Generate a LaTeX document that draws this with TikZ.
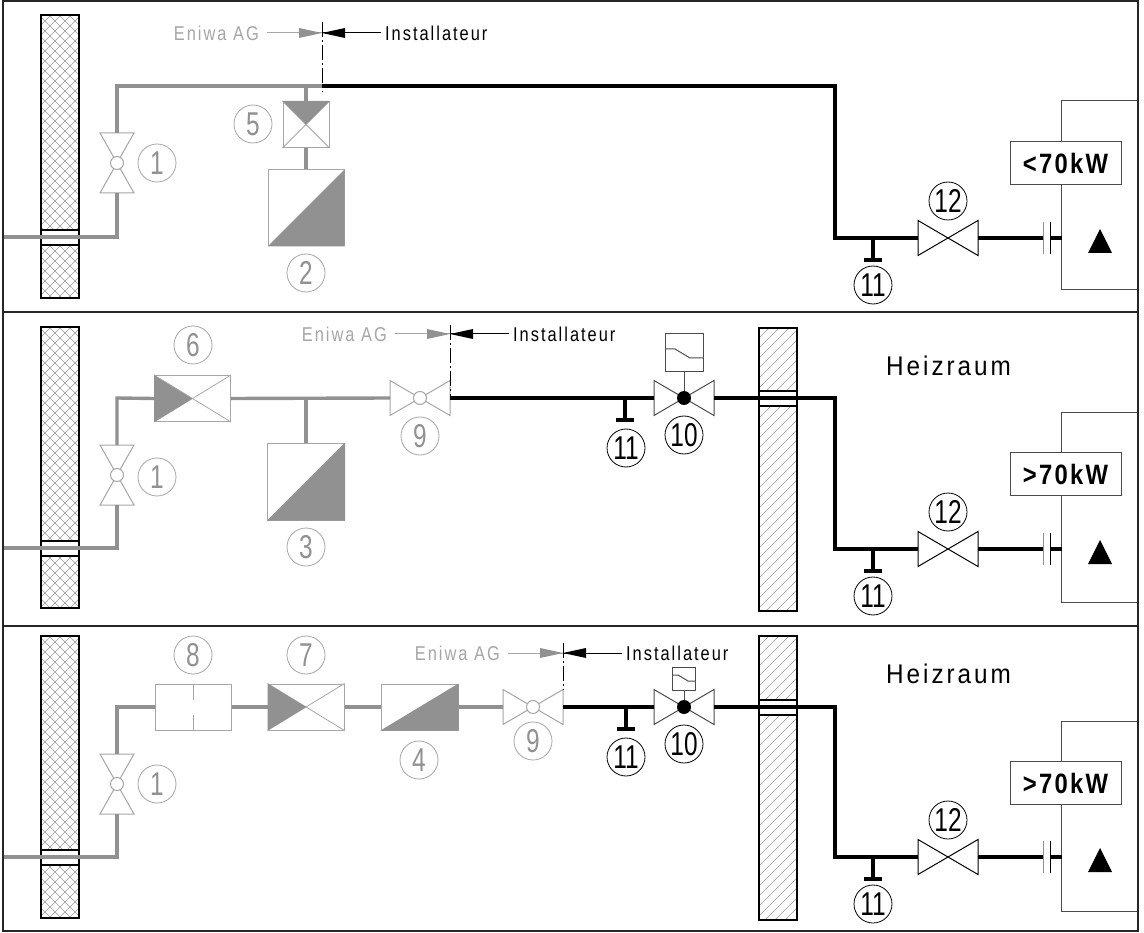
\documentclass[tikz,border=0pt]{standalone}
\usepackage{fontspec}
\setmainfont{Liberation Sans}
\newfontfamily\lab[FakeStretch=.82,LetterSpace=10]{Liberation Sans}
\newfontfamily\heiz[FakeStretch=.9,LetterSpace=11]{Liberation Sans}
\newfontfamily\digs[FakeStretch=.74]{Liberation Sans}
\newfontfamily\pow[FakeStretch=.85,LetterSpace=8]{Liberation Sans Bold}
\definecolor{gp}{HTML}{919191}
\definecolor{gt}{HTML}{A6A6A6}
\tikzset{
 gpipe/.style={draw=gp,line width=3.4pt,line join=miter},
 kpipe/.style={draw=black,line width=3.4pt,line join=miter},
 frameln/.style={draw=black!85,line width=2pt},
 wallln/.style={draw=black,line width=1.8pt},
 hatchln/.style={draw=black!40,line width=.5pt},
 thing/.style={draw=#1,line width=1pt,fill=white},
 numc/.style={circle,draw=#1,text=#1,line width=.8pt,minimum size=38pt,inner sep=0pt,font=\digs\fontsize{33}{33}\selectfont},
 numg/.style={numc=gp,draw=gt},
 numk/.style={numc=black},
 dashdot/.style={draw=black,line width=1pt,dash pattern=on 15pt off 3pt on 2pt off 3pt},
 lbl/.style={font=\lab\fontsize{20}{20}\selectfont,inner sep=0pt},
 powbox/.style={draw=black!70,fill=white,line width=1pt,minimum width=111pt,minimum height=43pt,inner sep=0pt,font=\pow\fontsize{28}{28}\selectfont},
 heizl/.style={font=\heiz\fontsize{27}{27}\selectfont,inner sep=0pt,anchor=west},
}
% wall: x0, ytop, ybot, bandtop, bandbot, hatch kind (1 cross, 0 single)
\newcommand{\mywall}[6]{%
 \begin{scope}
 \clip (#1,#2) rectangle (#1+38,#3);
 \foreach \k in {-40,-30,...,340}{
   \draw[hatchln] (#1,#2+\k) -- (#1+38,#2+\k-38);
   \ifnum#6=1 \draw[hatchln] (#1,#2+\k-38) -- (#1+38,#2+\k);\fi
 }
 \end{scope}
 \fill[white] (#1,#4) rectangle (#1+38,#5);
 \draw[wallln] (#1,#2) rectangle (#1+38,#3);
 \draw[wallln] (#1,#4) -- (#1+38,#4) (#1,#5) -- (#1+38,#5);
}
% horizontal valve: name,x,y,colour,half height
\newcommand{\hvalve}[5]{%
 \coordinate (#1) at (#2,#3);
 \coordinate (#1-l) at (#2-30,#3);
 \coordinate (#1-r) at (#2+30,#3);
 \draw[draw=#4,line width=1pt] (#2,#3) -- (#2-30,#3-#5) -- (#2-30,#3+#5) -- cycle;
 \draw[draw=#4,line width=1pt] (#2,#3) -- (#2+30,#3-#5) -- (#2+30,#3+#5) -- cycle;
}
% vertical valve with open hub
\newcommand{\vvalve}[3]{%
 \coordinate (#1) at (#2,#3);
 \coordinate (#1-t) at (#2,#3-30);
 \coordinate (#1-b) at (#2,#3+30);
 \draw[draw=gt,line width=1pt] (#2,#3) -- (#2-17,#3-30) -- (#2+17,#3-30) -- cycle;
 \draw[draw=gt,line width=1pt] (#2,#3) -- (#2-17,#3+30) -- (#2+17,#3+30) -- cycle;
 \draw[draw=gt,line width=1pt,fill=white] (#2,#3) circle (6.5);
}
% demarcation: x, y arrows, ytop, ybot
\newcommand{\demarc}[4]{%
 \coordinate (dt) at (#1,#3);
 \coordinate (db) at (#1,#4);
 \coordinate (dm) at (#1,#2);
 \node[lbl,text=gt,anchor=east] (en#1) at (#1-63,#2) {Eniwa AG};
 \node[lbl,text=black,anchor=west] (in#1) at (#1+63,#2) {Installateur};
 \draw[draw=gt,line width=1pt] (en#1.east) ++(8,0) -- (dm);
 \draw[draw=black,line width=1pt] (in#1.west) ++(-4,0) -- (dm);
 \fill[gp] (dm) -- ++(-23,-5) -- ++(0,10) -- cycle;
 \fill[black] (dm) -- ++(23,-5) -- ++(0,10) -- cycle;
 \draw[dashdot] (dt) -- (db);
}
% right-hand part of each panel: y of pipe (valve 12), top of boiler, bottom, label y, text
\newcommand{\consumer}[5]{%
 \draw[draw=black!70,line width=1pt] (1137,#2) -- (1061,#2) -- (1061,#3) -- (1137,#3);
 \node[powbox] (pw#1) at (1065.5,#4) {#5};
 \hvalve{vb#1}{948}{#1}{black}{17.5}
 \coordinate (cap#1a) at (1043,#1);
 \coordinate (cap#1b) at (1050,#1);
 \coordinate (bl#1) at (1062,#1);
 \coordinate (tee#1) at (873,#1);
 \coordinate (teeb#1) at (873,#1+22);
 \draw[kpipe] (vb#1-r) -- (cap#1a);
 \draw[kpipe] (cap#1b) -- (bl#1);
 \draw[draw=gp,line width=1pt] (1043,#1-16) -- (1043,#1+16);
 \draw[draw=black,line width=1pt] (1050,#1-16) -- (1050,#1+16);
 \draw[kpipe] (tee#1) -- (teeb#1);
 \draw[kpipe] (864,#1+22) -- (882,#1+22);
 \fill[black] (1100,#1-9) -- (1112,#1+15) -- (1088,#1+15) -- cycle;
 \node[numk] (c12#1) at (948,#1-37) {12};
 \node[numk] (c11#1) at (873,#1+47) {11};
}
\begin{document}
\begin{tikzpicture}[x=1pt,y=-1pt]
\useasboundingbox (0,0) rectangle (1144,933);
\fill[white] (0,0) rectangle (1144,933);

% ---------- walls
\mywall{41}{15}{298}{230}{245}{1}
\mywall{41}{327}{608}{541}{556}{1}
\mywall{41}{636}{918}{850}{865}{1}
\mywall{759}{328}{611}{391}{406}{0}
\mywall{759}{636}{920}{700}{715}{0}

% ---------- panel 1
\coordinate (a1) at (3,237);
\coordinate (a2) at (117,237);
\coordinate (a3) at (117,86);
\coordinate (a4) at (322,86);
\coordinate (a5) at (835,86);
\coordinate (a6) at (835,238);
\coordinate (j5) at (306,86);
\vvalve{v1}{117}{163}
\draw[gpipe] (a1) -- (a2) -- (v1-b);
\draw[gpipe] (v1-t) -- (a3) -- (a4);
\node[thing=gt,minimum size=46pt,inner sep=0pt] (b5) at (306,124.5) {};
\node[thing=gt,minimum size=76pt,inner sep=0pt] (b2) at (306,208) {};
\draw[gpipe] (j5) -- (b5.north);
\draw[gpipe] (b5.south) -- (b2.north);
\draw[draw=gt,line width=.8pt] (b5.south west) -- (b5.north east) (b5.north west) -- (b5.south east);
\fill[gp] (b5.north west) -- (b5.north east) -- (b5.center) -- cycle;
\fill[gp] (b2.south west) -- (b2.north east) -- (b2.south east) -- cycle;
\node[numg] (n1a) at (157,163) {1};
\node[numg] (n5) at (253,124) {5};
\node[numg] (n2) at (306,273) {2};
\demarc{322}{33}{22}{92}
\consumer{238}{101}{290}{163}{<70kW}
\draw[kpipe] (a4) -- (a5) -- (a6) -- (vb238-l);

% ---------- panel 2
\coordinate (p1) at (3,548);
\coordinate (p2) at (117,548);
\coordinate (p3) at (117,398);
\coordinate (j3) at (306,398);
\vvalve{v2}{117}{475}
\node[thing=gt,minimum width=76pt,minimum height=46pt,inner sep=0pt] (b6) at (192.5,398.5) {};
\node[thing=gt,minimum size=77pt,inner sep=0pt] (b3) at (306,481.5) {};
\hvalve{v9a}{420}{398}{gt}{17.5}
\draw[draw=gt,line width=1pt,fill=white] (v9a) circle (6.5);
\draw[gpipe] (p1) -- (p2) -- (v2-b);
\draw[gpipe] (v2-t) -- (p3) -- (b6.west);
\draw[gpipe] (b6.east) -- (v9a-l);
\draw[gpipe] (j3) -- (b3.north);
\draw[draw=gt,line width=.8pt] (b6.south west) -- (b6.north east);
\fill[gp] (b6.north west) -- (b6.center) -- (b6.south west) -- cycle;
\draw[draw=gt,line width=.8pt] (b6.north west) -- (b6.south east);
\fill[gp] (b3.south west) -- (b3.north east) -- (b3.south east) -- cycle;
\node[numg] (n1b) at (157,477) {1};
\node[numg] (n6) at (193,345) {6};
\node[numg] (n3) at (306,547) {3};
\node[numg] (n9a) at (420,436) {9};
\demarc{450}{334}{325}{398}
\hvalve{v10a}{684}{398}{black!70}{17.5}
\node[draw=black!70,line width=1pt,fill=white,minimum size=38pt,inner sep=0pt] (s10a) at (684,353) {};
\draw[draw=black!70,line width=1pt] (s10a.south) -- (v10a);
\draw[draw=black!70,line width=1pt] (665,349) -- (675,349) -- (690,358) -- (703,358);
\fill[black] (v10a) circle (7);
\coordinate (t2) at (625,398);
\coordinate (t2b) at (625,420);
\draw[kpipe] (v9a-r) -- (v10a-l);
\draw[kpipe] (t2) -- (t2b);
\draw[kpipe] (616,420) -- (634,420);
\node[numk] (n11a) at (626,448) {11};
\node[numk] (n10a) at (684,435) {10};
\coordinate (q1) at (835,398);
\coordinate (q2) at (835,549);
\consumer{549}{413}{602}{474}{>70kW}
\draw[kpipe] (v10a-r) -- (q1) -- (q2) -- (vb549-l);
\node[heizl] (hz1) at (886,366) {Heizraum};

% ---------- panel 3
\coordinate (r1) at (3,857);
\coordinate (r2) at (117,857);
\coordinate (r3) at (117,707);
\vvalve{v3}{117}{784}
\node[thing=gt,minimum width=76pt,minimum height=46pt,inner sep=0pt] (b8) at (193,707) {};
\node[thing=gt,minimum width=76pt,minimum height=46pt,inner sep=0pt] (b7) at (306,707) {};
\node[thing=gt,minimum width=77pt,minimum height=46pt,inner sep=0pt] (b4) at (419.5,707) {};
\hvalve{v9b}{533}{707}{gt}{17.5}
\draw[draw=gt,line width=1pt,fill=white] (v9b) circle (6.5);
\draw[gpipe] (r1) -- (r2) -- (v3-b);
\draw[gpipe] (v3-t) -- (r3) -- (b8.west);
\draw[gpipe] (b8.east) -- (b7.west);
\draw[gpipe] (b7.east) -- (b4.west);
\draw[gpipe] (b4.east) -- (v9b-l);
\draw[draw=gt,line width=1pt] (193,684) -- (193,700) (193,715) -- (193,730);
\draw[draw=gt,line width=.8pt] (b7.south west) -- (b7.north east) (b7.north west) -- (b7.south east);
\fill[gp] (b7.north west) -- (b7.center) -- (b7.south west) -- cycle;
\fill[gp] (b4.south west) -- (b4.north east) -- (b4.south east) -- cycle;
\node[numg] (n1c) at (157,784) {1};
\node[numg] (n8) at (193,655) {8};
\node[numg] (n7) at (306,655) {7};
\node[numg] (n4) at (419,760) {4};
\node[numg] (n9b) at (533,741) {9};
\demarc{563}{653}{643}{690}
\hvalve{v10b}{684}{707}{black!70}{17.5}
\node[draw=black!70,line width=1pt,fill=white,minimum size=23pt,inner sep=0pt] (s10b) at (684,678.5) {};
\draw[draw=black!70,line width=1pt] (s10b.south) -- (v10b);
\draw[draw=black!70,line width=1pt] (672.5,675) -- (678,675) -- (688,681) -- (695.5,681);
\fill[black] (v10b) circle (7);
\coordinate (t3) at (626,707);
\coordinate (t3b) at (626,729);
\draw[kpipe] (v9b-r) -- (v10b-l);
\draw[kpipe] (t3) -- (t3b);
\draw[kpipe] (617,729) -- (635,729);
\node[numk] (n11b) at (626,757) {11};
\node[numk] (n10b) at (684,744) {10};
\coordinate (w1) at (835,707);
\coordinate (w2) at (835,857);
\consumer{857}{721}{911}{783}{>70kW}
\draw[kpipe] (v10b-r) -- (w1) -- (w2) -- (vb857-l);
\node[heizl] (hz2) at (886,674) {Heizraum};

% ---------- frame
\draw[frameln] (3,1) rectangle (1137.5,931);
\draw[frameln] (3,312) -- (1137.5,312);
\draw[frameln] (3,626) -- (1137.5,626);
\end{tikzpicture}
\end{document}
